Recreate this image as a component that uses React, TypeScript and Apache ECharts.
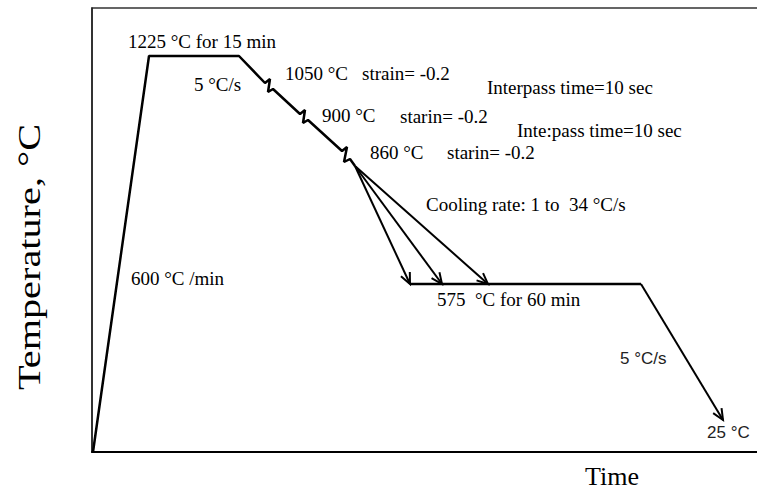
import React, { useEffect, useRef } from "react";
import * as echarts from "echarts";

// Schematic coordinates (time units, temperature units)
const heatingPath: number[][] = [
  [1, 0], [57, 396], [147, 396], [173, 369],
  [178, 373], [176, 360], [181, 363], [208, 338],
  [213, 342], [211, 329], [216, 332], [250, 301],
  [255, 305], [252, 290], [258, 293], [263, 286],
];
const holdPath: number[][] = [[318, 168], [549, 168]];
const fanOrigin: number[] = [263, 286];
const fanEnds: number[][] = [[318, 168], [350, 168], [396, 168]];
const finalCooling: number[][] = [[549, 168], [631, 32]];

const serifLabels: string[] = [
  "1225 °C for 15 min",
  "5 °C/s",
  "1050 °C",
  "strain= -0.2",
  "Interpass time=10 sec",
  "900 °C",
  "starin= -0.2",
  "Inte:pass time=10 sec",
  "860 °C",
  "starin= -0.2",
  "Cooling rate: 1 to  34 °C/s",
  "600 °C /min",
  "575  °C for 60 min",
];
const sansLabels: string[] = ["5 °C/s", "25 °C"];
const xAxisTitle = "Time";
const yAxisTitle = "Temperature, °C";

const serifPos: number[][] = [
  [128, 41], [194, 84], [285, 73], [362, 73], [487, 87],
  [322, 115], [400, 116], [517, 130], [370, 152], [447, 152],
  [426, 204], [131, 278], [437, 299],
];
const sansPos: number[][] = [[620, 358], [707, 432]];

export default function App() {
  const ref = useRef<HTMLDivElement>(null);
  useEffect(() => {
    if (!ref.current) return;
    const chart = echarts.init(ref.current, null, { renderer: "svg" });
    const arrowData = [
      ...fanEnds.map((e) => [fanOrigin[0], fanOrigin[1], e[0], e[1]]),
      [finalCooling[0][0], finalCooling[0][1], finalCooling[1][0], finalCooling[1][1]],
    ];
    const serif = '"Liberation Serif", "Times New Roman", serif';
    const sans = '"Liberation Sans", Arial, sans-serif';
    const graphics: any[] = [];
    serifLabels.forEach((t, i) => {
      graphics.push({
        type: "text",
        x: serifPos[i][0],
        y: serifPos[i][1],
        style: { text: t, font: `19px ${serif}`, fill: "#000", verticalAlign: "middle", align: "left" },
      });
    });
    sansLabels.forEach((t, i) => {
      graphics.push({
        type: "text",
        x: sansPos[i][0],
        y: sansPos[i][1],
        style: { text: t, font: `17px ${sans}`, fill: "#222", verticalAlign: "middle", align: "left" },
      });
    });
    graphics.push({
      type: "text",
      x: 585,
      y: 476,
      style: { text: xAxisTitle, font: `26px ${serif}`, fill: "#000", verticalAlign: "middle", align: "left" },
    });
    graphics.push({
      type: "text",
      x: 30,
      y: 257,
      rotation: Math.PI / 2,
      scaleX: 1.3,
      style: { text: yAxisTitle, font: `31px ${serif}`, fill: "#000", verticalAlign: "middle", align: "center" },
    });

    chart.setOption({
      animation: false,
      backgroundColor: "#fff",
      grid: {
        left: 92,
        top: 8,
        width: 670,
        height: 444,
        outerBoundsMode: "none",
        containLabel: false,
        show: true,
        borderColor: "#333",
        borderWidth: 1.5,
        backgroundColor: "transparent",
      },
      xAxis: {
        type: "value",
        min: 0,
        max: 670,
        axisLine: { show: true, onZero: false, lineStyle: { color: "#000", width: 2 } },
        axisTick: { show: false },
        axisLabel: { show: false },
        splitLine: { show: false },
      },
      yAxis: {
        type: "value",
        min: 0,
        max: 444,
        axisLine: { show: true, onZero: false, lineStyle: { color: "#222", width: 1.5 } },
        axisTick: { show: false },
        axisLabel: { show: false },
        splitLine: { show: false },
      },
      series: [
        {
          type: "line",
          data: heatingPath,
          symbol: "none",
          lineStyle: { color: "#000", width: 2.5 },
          z: 3,
        },
        {
          type: "line",
          data: holdPath,
          symbol: "none",
          lineStyle: { color: "#000", width: 2.5 },
          z: 3,
        },
        {
          type: "custom",
          data: arrowData,
          encode: { x: [0, 2], y: [1, 3] },
          z: 3,
          renderItem: (params: any, api: any) => {
            const a = api.coord([api.value(0), api.value(1)]);
            const b = api.coord([api.value(2), api.value(3)]);
            const ang = Math.atan2(b[1] - a[1], b[0] - a[0]);
            const L = 12;
            const spread = 0.42;
            const h1 = [b[0] - L * Math.cos(ang - spread), b[1] - L * Math.sin(ang - spread)];
            const h2 = [b[0] - L * Math.cos(ang + spread), b[1] - L * Math.sin(ang + spread)];
            return {
              type: "group",
              children: [
                { type: "line", shape: { x1: a[0], y1: a[1], x2: b[0], y2: b[1] }, style: { stroke: "#000", lineWidth: 2 } },
                { type: "polyline", shape: { points: [h1, b, h2] }, style: { stroke: "#000", lineWidth: 2, fill: null } },
              ],
            };
          },
        },
      ],
      graphic: graphics,
    });
    return () => chart.dispose();
  }, []);
  return <div ref={ref} style={{ width: 757, height: 495, position: "absolute", left: 0, top: 0 }} />;
}
